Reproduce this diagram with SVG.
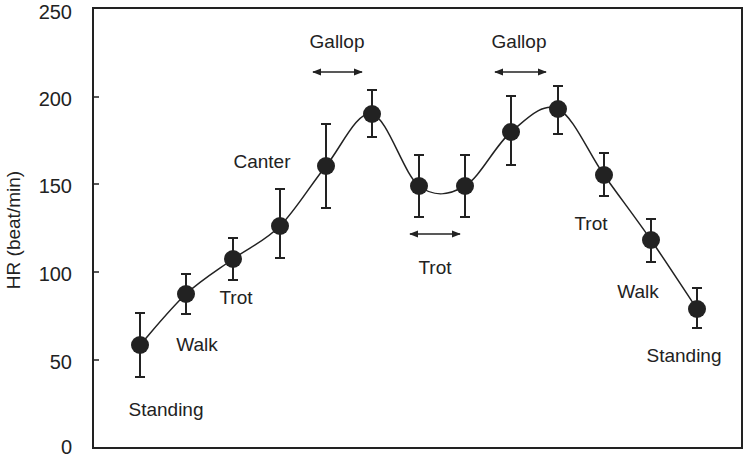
<svg xmlns="http://www.w3.org/2000/svg" width="745" height="458" viewBox="0 0 745 458">
<defs>
<marker id="ah" viewBox="0 0 10 10" refX="9" refY="5" markerWidth="9" markerHeight="9" orient="auto-start-reverse" markerUnits="userSpaceOnUse"><path d="M0,1 L10,5 L0,9 z" fill="#222"/></marker>
<style>
text{font-family:"Liberation Sans",Arial,sans-serif;fill:#222}
.t{font-size:20px;text-anchor:end}
.l{font-size:19px;text-anchor:middle}
.eb{stroke:#222;stroke-width:2;fill:none}
.ar{stroke:#222;stroke-width:1.6;marker-start:url(#ah);marker-end:url(#ah)}
</style>
</defs>
<rect width="745" height="458" fill="#fff"/>
<g id="axes">
<rect x="93" y="8" width="649" height="440" fill="none" stroke="#222" stroke-width="2"/>
<path d="M93,97h6M93,184h6M93,272h6M93,360h6" stroke="#222" stroke-width="1.5"/>
<text class="t" x="72" y="19">250</text>
<text class="t" x="72" y="106">200</text>
<text class="t" x="72" y="193">150</text>
<text class="t" x="72" y="281">100</text>
<text class="t" x="72" y="369">50</text>
<text class="t" x="72" y="454">0</text>
<text x="0" y="0" font-size="19" text-anchor="middle" transform="translate(20,230) rotate(-90)">HR (beat/min)</text>
</g>
<g id="connectors">
<path d="M140,345 C147.7,336.5 170.5,308.3 186,294 C201.5,279.7 217.3,270.3 233,259 C248.7,247.7 264.5,241.5 280,226 C295.5,210.5 310.7,184.7 326,166 C341.3,147.3 356.5,110.7 372,114 C387.5,117.3 403.5,174 419,186 C434.5,198 449.7,195 465,186 C480.3,177 495.5,144.8 511,132 C526.5,119.2 542.5,101.8 558,109 C573.5,116.2 588.5,153.2 604,175 C619.5,196.8 635.5,217.7 651,240 C666.5,262.3 689.3,297.5 697,309" fill="none" stroke="#222" stroke-width="1.5"/>
<line class="ar" x1="313" y1="72" x2="362" y2="72"/>
<line class="ar" x1="410" y1="234" x2="460" y2="234"/>
<line class="ar" x1="495" y1="72" x2="546" y2="72"/>
</g>
<g id="points" fill="#222">
<g id="p1"><path class="eb" d="M140,313V377M135,313h10M135,377h10"/><circle cx="140" cy="345" r="9"/></g>
<g id="p2"><path class="eb" d="M186,274V314M181,274h10M181,314h10"/><circle cx="186" cy="294" r="9"/></g>
<g id="p3"><path class="eb" d="M233,238V280M228,238h10M228,280h10"/><circle cx="233" cy="259" r="9"/></g>
<g id="p4"><path class="eb" d="M280,189V258M275,189h10M275,258h10"/><circle cx="280" cy="226" r="9"/></g>
<g id="p5"><path class="eb" d="M326,124V208M321,124h10M321,208h10"/><circle cx="326" cy="166" r="9"/></g>
<g id="p6"><path class="eb" d="M372,90V137M367,90h10M367,137h10"/><circle cx="372" cy="114" r="9"/></g>
<g id="p7"><path class="eb" d="M419,155V217M414,155h10M414,217h10"/><circle cx="419" cy="186" r="9"/></g>
<g id="p8"><path class="eb" d="M465,155V217M460,155h10M460,217h10"/><circle cx="465" cy="186" r="9"/></g>
<g id="p9"><path class="eb" d="M511,96V165M506,96h10M506,165h10"/><circle cx="511" cy="132" r="9"/></g>
<g id="p10"><path class="eb" d="M558,86V134M553,86h10M553,134h10"/><circle cx="558" cy="109" r="9"/></g>
<g id="p11"><path class="eb" d="M604,153V196M599,153h10M599,196h10"/><circle cx="604" cy="175" r="9"/></g>
<g id="p12"><path class="eb" d="M651,219V262M646,219h10M646,262h10"/><circle cx="651" cy="240" r="9"/></g>
<g id="p13"><path class="eb" d="M697,288V328M692,288h10M692,328h10"/><circle cx="697" cy="309" r="9"/></g>
</g>
<g id="labels">
<text class="l" x="166" y="416">Standing</text>
<text class="l" x="197" y="351">Walk</text>
<text class="l" x="236" y="304">Trot</text>
<text class="l" x="262" y="168">Canter</text>
<text class="l" x="337" y="48">Gallop</text>
<text class="l" x="435" y="274">Trot</text>
<text class="l" x="519" y="48">Gallop</text>
<text class="l" x="591" y="230">Trot</text>
<text class="l" x="638" y="298">Walk</text>
<text class="l" x="684" y="362">Standing</text>
</g>
</svg>
